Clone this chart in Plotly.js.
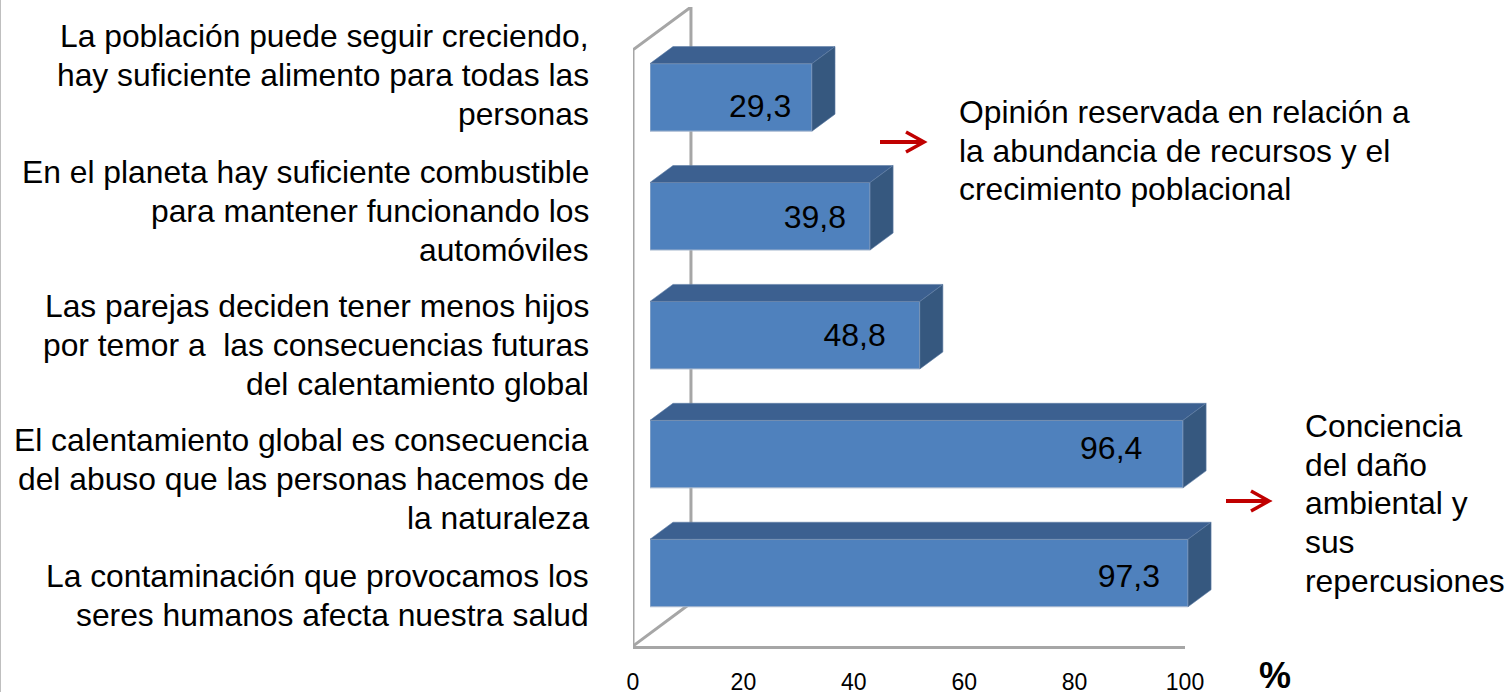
<!DOCTYPE html>
<html><head><meta charset="utf-8">
<script src="https://cdn.plot.ly/plotly-3.0.1.min.js"></script>
<style>html,body{margin:0;padding:0;background:#fff;overflow:hidden}#c{width:1511px;height:692px}</style>
</head><body><div id="c"></div>
<script>
// Bottom to top
const values = [97.3, 96.4, 48.8, 39.8, 29.3];
const valueLabelX = [86.6, 83.4, 37.0, 29.8, 19.9];
const valueLabelY = [-0.054, 1.023, 1.973, 2.965, 3.899];
const categoryLines = [
  ["La contaminación que provocamos los", "seres humanos afecta nuestra salud"],
  ["El calentamiento global es consecuencia", "del abuso que las personas hacemos de", "la naturaleza"],
  ["Las parejas deciden tener menos hijos", "por temor a  las consecuencias futuras", "del calentamiento global"],
  ["En el planeta hay suficiente combustible", "para mantener funcionando los", "automóviles"],
  ["La población puede seguir creciendo,", "hay suficiente alimento para todas las", "personas"]
];
const categoryLineY = [[576,615],[440,479,518],[306,345,384],[172,211,250],[36,75,114]];
const tickValues = [0,20,40,60,80,100];
const noteA = ["Opinión reservada en relación a","la abundancia de recursos y el","crecimiento poblacional"];
const noteAY = [112,151,189];
const noteB = ["Conciencia","del daño","ambiental y","sus","repercusiones"];
const noteBY = [426,465,503,542,581];

const W=1511,H=692;
const px=x=>x/W, py=y=>1-y/H;
const BAR_W=0.568, DX=4.16, DY=0.143;       // bar thickness and 3D depth in axis units
const WALL_DX=10.5, WALL_DY=0.362, Y0=-0.614, Y_FRONT_TOP=4.40, Y1=4.76;
const idx=values.map((_,i)=>i);

const top_x=[],top_y=[],side_x=[],side_y=[];
values.forEach((v,i)=>{
  const t=i+BAR_W/2,b=i-BAR_W/2;
  top_x.push(0,DX,v+DX,v,0,null); top_y.push(t,t+DY,t+DY,t,t,null);
  side_x.push(v,v+DX,v+DX,v,v,null); side_y.push(t,t+DY,b+DY,b,t,null);
});
const wall={color:'#a6a6a6',width:3};
const traces=[
 {type:'scatter',mode:'lines',xaxis:'x',yaxis:'y',cliponaxis:false,hoverinfo:'skip',showlegend:false,line:wall,
  x:[0,0,WALL_DX,WALL_DX,null,0,WALL_DX],
  y:[Y0,Y_FRONT_TOP,Y1,Y0+WALL_DY,null,Y0,Y0+WALL_DY]},
 {type:'scatter',mode:'lines',xaxis:'x2',yaxis:'y',fill:'toself',fillcolor:'#3c6090',cliponaxis:false,hoverinfo:'skip',showlegend:false,
  x:top_x,y:top_y,line:{color:'#5f7ea6',width:0.6}},
 {type:'scatter',mode:'lines',xaxis:'x2',yaxis:'y',fill:'toself',fillcolor:'#36587f',cliponaxis:false,hoverinfo:'skip',showlegend:false,
  x:side_x,y:side_y,line:{color:'#5f7ea6',width:0.6}},
 {type:'bar',orientation:'h',xaxis:'x2',yaxis:'y',x:values,y:idx,width:BAR_W,hoverinfo:'skip',showlegend:false,
  marker:{color:'#4f81bd',line:{color:'#a9b9cf',width:1}}},
 {type:'scatter',mode:'text',xaxis:'x2',yaxis:'y',x:valueLabelX,y:valueLabelY,cliponaxis:false,hoverinfo:'skip',showlegend:false,
  text:values.map(v=>v.toFixed(1).replace('.',',')),textposition:'middle center',
  textfont:{family:'"Liberation Sans",Arial,sans-serif',size:32,color:'#000'}}
];
const font=(s,b)=>({family:'"Liberation Sans",Arial,sans-serif',size:s,color:'#000',weight:b?700:400});
const ann=[];
const line=(text,x,y,anchor,size,bold)=>ann.push({text,xref:'paper',yref:'paper',x:px(x),y:py(y),xanchor:anchor,yanchor:'middle',showarrow:false,font:font(size,bold)});
categoryLines.forEach((ls,i)=>ls.forEach((t,j)=>line(t,591,categoryLineY[i][j],'right',31.8)));
noteA.forEach((t,j)=>line(t,957,noteAY[j],'left',31.8));
noteB.forEach((t,j)=>line(t,1303,noteBY[j],'left',31.8));
line('%',1275,675,'center',36,true);

const arrow=(x0,x1,y)=>[
 {type:'path',xref:'paper',yref:'paper',path:`M${px(x0)},${py(y)} L${px(x1-2)},${py(y)}`,line:{color:'#c00000',width:4}},
 {type:'path',xref:'paper',yref:'paper',path:`M${px(x1-19)},${py(y-10)} L${px(x1-1)},${py(y)} L${px(x1-19)},${py(y+10)}`,line:{color:'#c00000',width:3.5}}
];
const shapes=[...arrow(880,925,142),...arrow(1226,1270,501),
 {type:'line',xref:'paper',yref:'paper',x0:px(0.5),x1:px(0.5),y0:0,y1:1,line:{color:'#bfbfbf',width:1}}];

const layout={
 width:W,height:H,margin:{l:0,r:0,t:0,b:0},paper_bgcolor:'#fff',plot_bgcolor:'rgba(0,0,0,0)',showlegend:false,
 xaxis:{domain:[px(633),px(1185)],range:[0,100],anchor:'y',showgrid:false,zeroline:false,
  showline:true,linecolor:'#a6a6a6',linewidth:3,tickvals:tickValues,ticktext:tickValues.map(String),ticks:'outside',ticklen:13,tickcolor:'rgba(0,0,0,0)',
  tickfont:{family:'"Liberation Sans",Arial,sans-serif',size:23,color:'#000'}},
 xaxis2:{domain:[px(650),px(650+5.53*115)],range:[0,115],anchor:'y',visible:false,showgrid:false,zeroline:false},
 yaxis:{domain:[(H-646)/H,(H-7)/H],range:[Y0,Y1],visible:false,showgrid:false,zeroline:false},
 annotations:ann,shapes
};
Plotly.newPlot('c',traces,layout,{displayModeBar:false,staticPlot:true});
</script></body></html>
